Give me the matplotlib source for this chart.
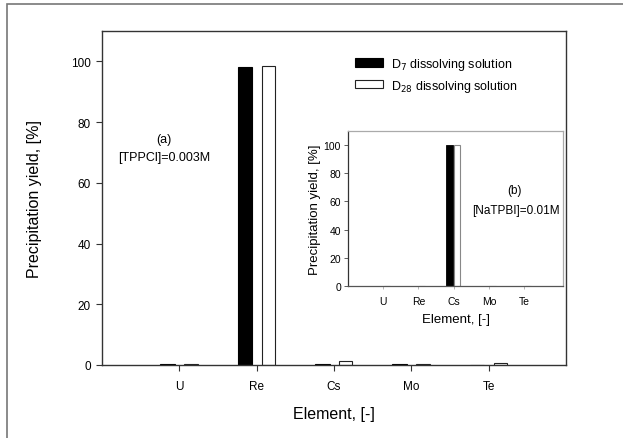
import matplotlib
matplotlib.use("Agg")
import matplotlib.pyplot as plt
import numpy as np
from matplotlib.patches import Rectangle

plt.rcParams['font.family'] = ['Liberation Sans', 'DejaVu Sans']

# data
elements = ['U', 'Re', 'Cs', 'Mo', 'Te']
# (a) TPPCl = 0.003M
d7_tppcl = [0.3, 98.0, 0.4, 0.3, 0.0]
d28_tppcl = [0.4, 98.5, 1.2, 0.3, 0.8]
# (b) NaTPBI = 0.01M
d7_natpbi = [0.0, 0.3, 99.8, 0.3, 0.3]
d28_natpbi = [0.0, 0.3, 99.8, 0.3, 0.3]

W, H = 623, 439
fig = plt.figure(figsize=(W / 100, H / 100), dpi=100)

# grey frame around the figure
fig.patches.append(Rectangle((7 / W, -0.1), 1.2, 1 - 5 / H + 0.1, transform=fig.transFigure,
                             fill=False, edgecolor='#777777', linewidth=1.2))

def box(l, t, r, b):
    return [l / W, 1 - b / H, (r - l) / W, (b - t) / H]

def label_at(px, py, s, size):
    # pixel position measured from the top left of the picture
    fig.text(px / W, 1 - py / H, s, fontsize=size, ha='center', va='center')

x = np.arange(1, len(elements) + 1)

# main chart
ax = fig.add_axes(box(102, 32, 566, 366))
ax.bar(x - 0.15, d7_tppcl, width=0.19, color='black', edgecolor='black', linewidth=0.8,
       label='D$_7$ dissolving solution')
ax.bar(x + 0.15, d28_tppcl, width=0.17, color='white', edgecolor='#222222', linewidth=0.8,
       label='D$_{28}$ dissolving solution')
ax.set_xlim(0, 6)
ax.set_ylim(0, 110)
ax.set_xticks(x)
ax.set_xticklabels(elements)
ax.set_yticks([0, 20, 40, 60, 80, 100])
ax.tick_params(labelsize=8.5, length=4, width=0.8, color='#333333', pad=4)
ax.tick_params(axis='x', pad=7)
for s in ax.spines.values():
    s.set_color('#333333')
    s.set_linewidth(1.0)
ax.set_xlabel('Element, [-]', fontsize=11.5, labelpad=10)
ax.set_ylabel('Precipitation yield, [%]', fontsize=11.5, labelpad=21)
label_at(164, 140, '(a)', 9)
label_at(164, 158, '[TPPCl]=0.003M', 9)

leg = ax.legend(loc='upper left', bbox_to_anchor=(355 / W, 1 - 57 / H),
                bbox_transform=fig.transFigure, frameon=False, fontsize=9,
                handlelength=2.2, handleheight=0.65, handletextpad=0.7,
                labelspacing=0.45, borderpad=0, borderaxespad=0)

# inset chart
ins = fig.add_axes(box(348, 132, 563, 287))
ins.bar(x - 0.12, d7_natpbi, width=0.18, color='black', edgecolor='black', linewidth=0.6)
ins.bar(x + 0.10, d28_natpbi, width=0.18, color='white', edgecolor='#888888', linewidth=0.8)
ins.set_xlim(0, 6.1)
ins.set_ylim(0, 110)
ins.set_xticks(x)
ins.set_xticklabels(elements)
ins.set_yticks([0, 20, 40, 60, 80, 100])
ins.tick_params(axis='y', labelsize=7.5, length=3, width=0.6, color='#444444', pad=2)
ins.tick_params(axis='x', labelsize=7.5, length=2, width=0.6, color='#aaaaaa', pad=5)
ins.spines['left'].set_color('#333333')
ins.spines['bottom'].set_color('#555555')
ins.spines['top'].set_color('#aaaaaa')
ins.spines['right'].set_color('#aaaaaa')
for s in ins.spines.values():
    s.set_linewidth(0.9)
ins.set_xlabel('Element, [-]', fontsize=9.5, labelpad=5)
ins.set_ylabel('Precipitation yield, [%]', fontsize=9.5, labelpad=2)
label_at(514, 191, '(b)', 8.5)
label_at(516, 211, '[NaTPBI]=0.01M', 8.5)

fig.savefig('out.png', dpi=100)
